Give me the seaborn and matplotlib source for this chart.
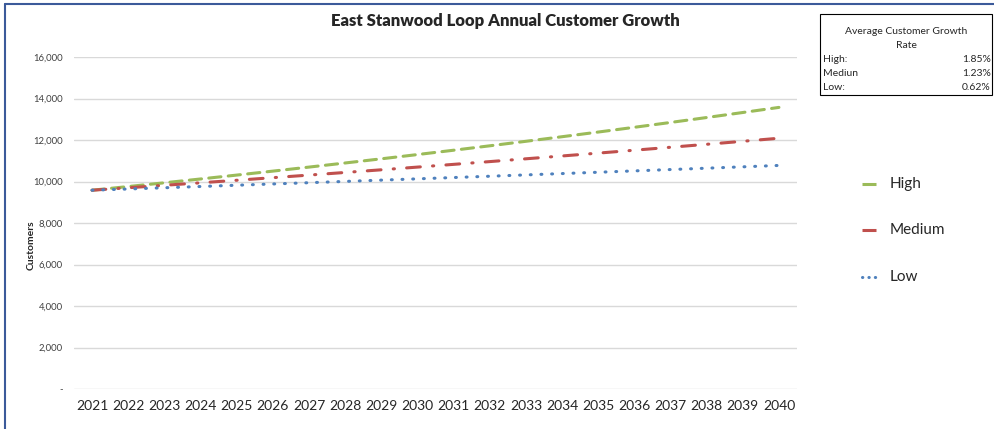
import pandas as pd
import matplotlib.pyplot as plt
import seaborn as sns
from matplotlib.patches import Rectangle
from matplotlib.lines import Line2D

# Customer projections
years = list(range(2021, 2041))
high = [9580, 9757, 9938, 10122, 10309, 10500, 10694, 10892, 11093, 11298,
        11507, 11720, 11937, 12158, 12383, 12612, 12845, 13083, 13325, 13571]
medium = [9580, 9698, 9817, 9938, 10060, 10184, 10309, 10436, 10564, 10694,
          10826, 10959, 11094, 11230, 11368, 11508, 11650, 11793, 11938, 12085]
low = [9580, 9639, 9699, 9759, 9820, 9881, 9942, 10004, 10066, 10128,
       10191, 10254, 10318, 10382, 10446, 10511, 10576, 10641, 10707, 10774]
scenarios = ['High', 'Medium', 'Low']
growth_rates = ['1.85%', '1.23%', '0.62%']
rate_labels = ['High:', 'Mediun', 'Low:']
yticks = [0, 2000, 4000, 6000, 8000, 10000, 12000, 14000, 16000]

df = pd.DataFrame({
    'Year': years * 3,
    'Customers': high + medium + low,
    'Scenario': ['High'] * 20 + ['Medium'] * 20 + ['Low'] * 20,
})

sns.set_style("white")
plt.rcParams['font.family'] = ['Lato', 'DejaVu Sans']

fig = plt.figure(figsize=(9.95, 4.29), dpi=100)
ax = fig.add_axes([74 / 995, 1 - 389 / 429, (797 - 74) / 995, (389 - 57) / 429])

colors = {'High': '#9BBB59', 'Medium': '#C0504D', 'Low': '#4F81BD'}
dashes = {'High': (4, 2.4), 'Medium': (4.5, 4, 0.4, 4), 'Low': (0.3, 3.2)}
sns.lineplot(data=df, x='Year', y='Customers', hue='Scenario', style='Scenario',
             hue_order=scenarios, style_order=scenarios, palette=colors,
             dashes=dashes, linewidth=2.2, ax=ax, legend=False)
for ln in ax.lines:
    ln.set_dash_capstyle('round')

ax.set_xlim(2020.5, 2040.5)
ax.set_ylim(0, 16000)
ax.set_xticks(years)
ax.set_xticklabels([str(y) for y in years], fontsize=10)
ax.set_yticks(yticks)
ax.set_yticklabels(['-'] + [f'{v:,}' for v in yticks[1:]], fontsize=6.8, color='#404040')
ax.tick_params(axis='both', length=0)
ax.tick_params(axis='y', pad=8)
ax.tick_params(axis='x', pad=8)
ax.grid(axis='y', color='#D9D9D9', linewidth=1)
ax.set_axisbelow(True)
for s in ax.spines.values():
    s.set_visible(False)
ax.set_xlabel('')
ax.set_ylabel('')
fig.text(31 / 995, 1 - 245 / 429, 'Customers', rotation=90, fontsize=7.5,
         fontweight='bold', ha='center', va='center')

fig.text(505 / 995, 1 - 21 / 429, 'East Stanwood Loop Annual Customer Growth',
         fontsize=12, fontweight='heavy', ha='center', va='center')

# legend on the right, drawn by hand so the key marks stay short
legend_styles = {'High': '-', 'Medium': '-', 'Low': (0, (0.1, 2.0))}
legend_y = [184, 230, 277]
for s, yp in zip(scenarios, legend_y):
    yy = 1 - yp / 429
    fig.add_artist(Line2D([862 / 995, 876 / 995], [yy, yy], transform=fig.transFigure,
                          color=colors[s], linewidth=2.2, linestyle=legend_styles[s],
                          dash_capstyle='round', solid_capstyle='butt'))
    fig.text(890 / 995, yy, s, fontsize=11, ha='left', va='center', color='#262626')

# growth rate box
fig.add_artist(Rectangle((820 / 995, 1 - 95 / 429), 172 / 995, 81 / 429,
                         transform=fig.transFigure, fill=False,
                         edgecolor='black', linewidth=0.8))
fig.text(906 / 995, 1 - 31 / 429, 'Average Customer Growth', fontsize=7.5,
         ha='center', va='center')
fig.text(906 / 995, 1 - 45 / 429, 'Rate', fontsize=7.5, ha='center', va='center')
for i, (lab, r) in enumerate(zip(rate_labels, growth_rates)):
    yy = 1 - (59 + 14 * i) / 429
    fig.text(823 / 995, yy, lab, fontsize=7.5, ha='left', va='center')
    fig.text(991 / 995, yy, r, fontsize=7.5, ha='right', va='center')

# chart border
fig.add_artist(Line2D([5 / 995, 5 / 995], [0, 1 - 4 / 429], transform=fig.transFigure,
                      color='#3B5A9A', linewidth=1.5))
fig.add_artist(Line2D([5 / 995, 1], [1 - 4 / 429, 1 - 4 / 429], transform=fig.transFigure,
                      color='#3B5A9A', linewidth=1.5))

fig.savefig('out.png', dpi=100)
